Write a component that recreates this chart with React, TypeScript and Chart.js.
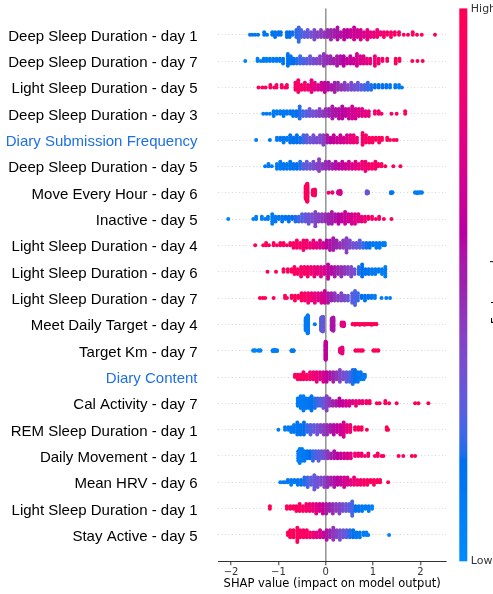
import { useEffect, useRef } from "react";
import { Chart, registerables } from "chart.js";

Chart.register(...registerables);

// ---------- data ----------
const FEATURES = [
  "Deep Sleep Duration - day 1",
  "Deep Sleep Duration - day 7",
  "Light Sleep Duration - day 5",
  "Deep Sleep Duration - day 3",
  "Diary Submission Frequency",
  "Deep Sleep Duration - day 5",
  "Move Every Hour - day 6",
  "Inactive - day 5",
  "Light Sleep Duration - day 4",
  "Light Sleep Duration - day 6",
  "Light Sleep Duration - day 7",
  "Meet Daily Target - day 4",
  "Target Km - day 7",
  "Diary Content",
  "Cal Activity - day 7",
  "REM Sleep Duration - day 1",
  "Daily Movement - day 1",
  "Mean HRV - day 6",
  "Light Sleep Duration - day 1",
  "Stay Active - day 5",
];
const HIGHLIGHTED = ["Diary Submission Frequency", "Diary Content"];
const X_TICKS = [-2, -1, 0, 1, 2];
const COLOR_TICKS = ["Low", "High"];
const X_TITLE = "SHAP value (impact on model output)";
const COLOR_TITLE = "Feature value";

// each entry: [SHAP value, number of stacked samples, feature value (0 low .. 1 high)]
const deepSleepDay1 = [
  [-1.6, 1, 0.12], [-1.55, 1, 0.12], [-1.49, 1, 0.13], [-1.43, 1, 0.13],
  [-1.3, 2, 0.13], [-1.24, 1, 0.14],
  [-1.13, 2, 0.15], [-1.07, 3, 0.15], [-1.0, 2, 0.16], [-0.95, 2, 0.16],
  [-0.82, 3, 0.17], [-0.76, 3, 0.18], [-0.7, 2, 0.19],
  [-0.62, 4, 0.2], [-0.57, 7, 0.22], [-0.52, 4, 0.24],
  [-0.45, 3, 0.28], [-0.38, 4, 0.31], [-0.31, 3, 0.34], [-0.24, 5, 0.37], [-0.17, 3, 0.4], [-0.1, 4, 0.43], [-0.03, 3, 0.45],
  [0.04, 4, 0.48], [0.11, 5, 0.5], [0.18, 4, 0.52], [0.25, 6, 0.55], [0.32, 3, 0.57], [0.39, 5, 0.6], [0.46, 4, 0.62],
  [0.53, 4, 0.64], [0.6, 6, 0.66], [0.67, 4, 0.68], [0.74, 5, 0.7], [0.81, 3, 0.72], [0.88, 5, 0.75], [0.95, 3, 0.77],
  [1.02, 3, 0.8], [1.09, 4, 0.82], [1.16, 2, 0.84], [1.23, 3, 0.86], [1.3, 2, 0.88], [1.38, 3, 0.9], [1.46, 2, 0.91], [1.55, 2, 0.93],
  [1.65, 1, 0.95], [1.74, 1, 0.95], [1.84, 2, 0.96], [1.93, 1, 0.97], [2.03, 1, 0.98], [2.31, 1, 1],
];
const deepSleepDay7 = [
  [-1.7, 1, 0.05], [-1.44, 2, 0.08], [-1.37, 1, 0.09], [-1.31, 2, 0.1], [-1.25, 2, 0.1], [-1.18, 2, 0.11], [-1.11, 2, 0.12], [-1.04, 2, 0.12], [-0.97, 2, 0.13], [-0.9, 3, 0.14],
  [-0.8, 6, 0.15], [-0.74, 4, 0.16], [-0.68, 3, 0.18],
  [-0.61, 3, 0.2], [-0.54, 4, 0.22], [-0.47, 3, 0.25], [-0.4, 3, 0.28], [-0.33, 4, 0.32], [-0.26, 3, 0.35], [-0.19, 3, 0.38], [-0.12, 4, 0.41], [-0.04, 6, 0.44],
  [0.03, 4, 0.47], [0.1, 4, 0.49], [0.17, 3, 0.52], [0.24, 5, 0.54], [0.31, 4, 0.56], [0.38, 5, 0.59], [0.45, 3, 0.61], [0.52, 4, 0.64], [0.59, 3, 0.66], [0.66, 6, 0.69], [0.73, 4, 0.72], [0.8, 4, 0.74], [0.87, 3, 0.77], [0.94, 3, 0.8],
  [1.04, 5, 0.84], [1.12, 3, 0.86], [1.2, 2, 0.88], [1.3, 2, 0.9],
  [1.48, 3, 0.95], [1.56, 2, 0.96],
  [1.83, 1, 0.98], [1.94, 1, 0.99], [2.05, 1, 1],
];
const lightSleepDay5 = [
  [-1.42, 1, 0.96], [-1.34, 1, 0.96], [-1.27, 1, 0.95],
  [-1.17, 2, 0.95], [-1.09, 1, 0.95], [-1.04, 2, 0.94],
  [-0.93, 2, 0.93], [-0.86, 1, 0.93], [-0.82, 2, 0.92],
  [-0.64, 4, 0.9], [-0.58, 6, 0.9], [-0.51, 3, 0.89],
  [-0.44, 4, 0.87], [-0.37, 3, 0.84], [-0.3, 6, 0.8], [-0.23, 4, 0.76], [-0.16, 3, 0.72], [-0.09, 4, 0.68], [-0.02, 5, 0.63],
  [0.05, 4, 0.58], [0.12, 3, 0.55], [0.19, 5, 0.52], [0.26, 4, 0.49], [0.33, 3, 0.46], [0.4, 4, 0.43], [0.47, 3, 0.4],
  [0.54, 4, 0.37], [0.61, 3, 0.34], [0.68, 4, 0.31], [0.75, 3, 0.28], [0.82, 3, 0.25], [0.89, 4, 0.22], [0.96, 3, 0.2],
  [1.04, 2, 0.18], [1.12, 2, 0.17], [1.2, 2, 0.16], [1.28, 2, 0.15], [1.36, 2, 0.14],
  [1.47, 2, 0.12], [1.55, 2, 0.11], [1.61, 1, 0.1],
];
const deepSleepDay3 = [
  [-1.32, 1, 0.1], [-1.25, 1, 0.1], [-1.18, 1, 0.11],
  [-1.1, 3, 0.12], [-1.03, 2, 0.12], [-0.96, 2, 0.13], [-0.89, 3, 0.13], [-0.82, 2, 0.14], [-0.75, 2, 0.15], [-0.69, 3, 0.16],
  [-0.62, 3, 0.18], [-0.55, 6, 0.2], [-0.48, 3, 0.23], [-0.41, 3, 0.27], [-0.34, 4, 0.31], [-0.27, 3, 0.34], [-0.2, 3, 0.37], [-0.13, 4, 0.4], [-0.06, 3, 0.43], [0.0, 4, 0.46],
  [0.07, 4, 0.5], [0.14, 6, 0.53], [0.21, 4, 0.56], [0.28, 5, 0.58], [0.35, 6, 0.6], [0.42, 4, 0.63], [0.49, 5, 0.66], [0.56, 6, 0.68], [0.63, 5, 0.7], [0.7, 4, 0.73], [0.77, 4, 0.75], [0.84, 3, 0.78], [0.91, 3, 0.8],
  [1.04, 2, 0.85], [1.12, 2, 0.87], [1.18, 1, 0.88],
  [1.39, 1, 0.9], [1.5, 1, 0.92], [1.68, 2, 0.96],
];
const diarySubmission = [
  [-1.47, 1, 0.1],
  [-1.18, 1, 0.12], [-1.03, 2, 0.12], [-0.96, 2, 0.13], [-0.89, 3, 0.13], [-0.82, 2, 0.14],
  [-0.75, 4, 0.15], [-0.68, 3, 0.16], [-0.61, 4, 0.17], [-0.54, 3, 0.19], [-0.47, 4, 0.22],
  [-0.4, 4, 0.3], [-0.33, 3, 0.32], [-0.26, 4, 0.34], [-0.19, 3, 0.36], [-0.12, 4, 0.38], [-0.05, 5, 0.4],
  [0.03, 4, 0.55], [0.1, 3, 0.6], [0.17, 4, 0.63], [0.24, 3, 0.65], [0.31, 4, 0.68], [0.38, 3, 0.7], [0.45, 4, 0.73],
  [0.52, 4, 0.8], [0.59, 4, 0.82], [0.66, 3, 0.84],
  [0.78, 6, 0.9], [0.85, 4, 0.91], [0.92, 3, 0.92], [0.99, 3, 0.93], [1.06, 2, 0.94], [1.13, 3, 0.94], [1.19, 2, 0.95],
  [1.3, 2, 0.95], [1.36, 1, 0.96], [1.44, 1, 0.96], [1.5, 1, 0.97],
];
const deepSleepDay5 = [
  [-1.28, 1, 0.1], [-1.21, 2, 0.1], [-1.14, 1, 0.11],
  [-1.03, 3, 0.12], [-0.96, 4, 0.12], [-0.89, 3, 0.13], [-0.82, 3, 0.14], [-0.75, 4, 0.15], [-0.68, 3, 0.16], [-0.61, 3, 0.18], [-0.54, 4, 0.2],
  [-0.47, 3, 0.27], [-0.4, 4, 0.3], [-0.33, 3, 0.33], [-0.26, 4, 0.36], [-0.19, 3, 0.39], [-0.14, 6, 0.41], [-0.07, 3, 0.44], [0.0, 4, 0.47],
  [0.07, 4, 0.5], [0.14, 3, 0.53], [0.21, 4, 0.56], [0.28, 3, 0.6], [0.35, 4, 0.63], [0.42, 3, 0.66], [0.49, 4, 0.7],
  [0.56, 3, 0.74], [0.63, 4, 0.77], [0.7, 3, 0.8], [0.77, 4, 0.82], [0.84, 5, 0.84], [0.91, 3, 0.86], [0.98, 3, 0.88], [1.05, 4, 0.9], [1.11, 2, 0.91],
  [1.18, 2, 0.94], [1.26, 1, 0.95], [1.43, 1, 0.98], [1.58, 1, 1],
];
const moveEveryHourDay6 = [
  [-0.42, 30, 0.95], [-0.39, 41, 0.95], [-0.27, 12, 0.94], [-0.23, 14, 0.94],
  [0.06, 1, 0.85], [0.14, 2, 0.82], [0.27, 6, 0.72], [0.31, 8, 0.7],
  [0.87, 6, 0.33], [0.89, 4, 0.33], [1.38, 3, 0.13], [1.41, 2, 0.13],
  [1.89, 2, 0.1], [1.94, 3, 0.1], [1.99, 2, 0.1], [2.03, 2, 0.1],
];
const inactiveDay5 = [
  [-2.06, 1, 0.05],
  [-1.53, 1, 0.08], [-1.47, 2, 0.08], [-1.35, 2, 0.09], [-1.28, 1, 0.1], [-1.22, 2, 0.1],
  [-1.13, 5, 0.11], [-1.06, 3, 0.12], [-0.99, 2, 0.13], [-0.92, 3, 0.14], [-0.85, 2, 0.15], [-0.78, 3, 0.16], [-0.71, 2, 0.18], [-0.64, 3, 0.2], [-0.57, 3, 0.23], [-0.5, 4, 0.26],
  [-0.43, 4, 0.3], [-0.36, 5, 0.33], [-0.29, 4, 0.36], [-0.22, 7, 0.39], [-0.15, 4, 0.41], [-0.08, 4, 0.44], [-0.01, 4, 0.47],
  [0.06, 5, 0.5], [0.13, 6, 0.53], [0.2, 4, 0.56], [0.27, 5, 0.59], [0.34, 4, 0.62], [0.41, 6, 0.65], [0.48, 4, 0.68], [0.55, 5, 0.71], [0.62, 5, 0.74], [0.69, 4, 0.77], [0.76, 3, 0.8], [0.83, 3, 0.83], [0.9, 2, 0.85],
  [0.98, 2, 0.9], [1.06, 1, 0.91], [1.13, 2, 0.92],
  [1.23, 1, 0.95], [1.39, 1, 0.97],
];
const lightSleepDay4 = [
  [-1.49, 1, 0.96], [-1.32, 1, 0.95], [-1.26, 2, 0.95], [-1.2, 1, 0.95],
  [-1.1, 2, 0.94], [-1.03, 1, 0.94], [-0.96, 2, 0.93], [-0.89, 2, 0.93], [-0.82, 1, 0.92], [-0.75, 2, 0.92],
  [-0.68, 3, 0.91], [-0.61, 4, 0.9], [-0.54, 3, 0.89], [-0.47, 5, 0.88], [-0.4, 4, 0.86], [-0.33, 3, 0.84], [-0.26, 4, 0.8], [-0.19, 3, 0.76], [-0.12, 4, 0.72], [-0.05, 3, 0.68],
  [0.02, 4, 0.6], [0.09, 5, 0.56], [0.16, 6, 0.53], [0.23, 4, 0.5], [0.3, 3, 0.47], [0.37, 4, 0.44], [0.44, 7, 0.41], [0.51, 4, 0.38], [0.58, 3, 0.35], [0.65, 3, 0.32], [0.72, 4, 0.28],
  [0.79, 3, 0.22], [0.86, 3, 0.19], [0.93, 3, 0.16], [1.0, 2, 0.14], [1.07, 3, 0.12], [1.14, 3, 0.11], [1.21, 2, 0.1], [1.25, 2, 0.1],
];
const lightSleepDay6 = [
  [-1.23, 1, 1], [-1.05, 1, 0.98],
  [-0.89, 2, 0.96], [-0.8, 2, 0.95], [-0.72, 2, 0.95],
  [-0.66, 4, 0.93], [-0.59, 3, 0.92], [-0.52, 5, 0.91], [-0.45, 4, 0.9], [-0.38, 5, 0.88], [-0.31, 4, 0.86], [-0.24, 5, 0.83], [-0.17, 4, 0.8], [-0.1, 5, 0.76], [-0.03, 4, 0.72],
  [0.05, 7, 0.62], [0.12, 4, 0.58], [0.19, 5, 0.54], [0.26, 4, 0.5], [0.33, 5, 0.47], [0.4, 4, 0.44], [0.47, 4, 0.41], [0.54, 5, 0.38], [0.61, 3, 0.35],
  [0.7, 4, 0.2], [0.77, 6, 0.18], [0.84, 3, 0.16], [0.91, 3, 0.14], [0.98, 3, 0.13], [1.05, 3, 0.12], [1.12, 2, 0.11], [1.19, 3, 0.1], [1.26, 5, 0.1],
];
const lightSleepDay7 = [
  [-1.39, 1, 1], [-1.33, 1, 1], [-1.28, 1, 0.99], [-1.1, 1, 0.98], [-0.86, 2, 0.96], [-0.82, 1, 0.96],
  [-0.72, 2, 0.95], [-0.65, 3, 0.95], [-0.58, 2, 0.94], [-0.51, 4, 0.93],
  [-0.44, 4, 0.9], [-0.37, 5, 0.87], [-0.3, 4, 0.84], [-0.23, 5, 0.8], [-0.16, 4, 0.76], [-0.09, 5, 0.72], [-0.02, 6, 0.67],
  [0.05, 5, 0.55], [0.12, 4, 0.5], [0.19, 4, 0.45], [0.26, 3, 0.42], [0.33, 4, 0.39], [0.4, 3, 0.36], [0.47, 3, 0.32],
  [0.56, 5, 0.27], [0.62, 7, 0.25], [0.68, 4, 0.23],
  [0.76, 2, 0.18], [0.83, 3, 0.16], [0.9, 2, 0.15], [0.97, 2, 0.13], [1.04, 2, 0.12],
  [1.18, 1, 0.1], [1.28, 1, 0.1], [1.36, 1, 0.1],
];
const meetDailyTargetDay4 = [
  [-0.42, 28, 0.1], [-0.38, 41, 0.1], [-0.23, 1, 0.12],
  [-0.09, 30, 0.28], [-0.06, 34, 0.3],
  [0.13, 26, 0.52], [0.16, 30, 0.55],
  [0.34, 8, 0.8], [0.38, 9, 0.78],
  [0.57, 2, 0.95], [0.62, 3, 0.95], [0.67, 2, 0.95], [0.72, 3, 0.96], [0.77, 2, 0.96], [0.82, 3, 0.96], [0.87, 2, 0.97], [0.92, 2, 0.97], [0.97, 3, 0.97], [1.02, 2, 0.98], [1.07, 2, 0.98],
];
const targetKmDay7 = [
  [-1.53, 2, 0.05], [-1.49, 2, 0.05], [-1.42, 2, 0.06], [-1.38, 2, 0.06],
  [-1.12, 3, 0.08], [-1.08, 4, 0.08], [-1.03, 3, 0.09],
  [-0.72, 3, 0.12], [-0.68, 3, 0.12],
  [0.0, 41, 0.62],
  [0.31, 10, 0.8], [0.35, 14, 0.8],
  [0.63, 2, 0.93], [0.68, 2, 0.93], [0.73, 2, 0.94], [0.78, 2, 0.94],
  [1.01, 2, 0.97], [1.06, 2, 0.97], [1.11, 2, 0.98],
];
const diaryContent = [
  [-0.65, 2, 0.96], [-0.59, 3, 0.95], [-0.53, 3, 0.94],
  [-0.47, 4, 0.92], [-0.4, 3, 0.9], [-0.33, 4, 0.87], [-0.26, 4, 0.84], [-0.19, 5, 0.8], [-0.12, 4, 0.76], [-0.05, 5, 0.7],
  [0.02, 5, 0.62], [0.09, 4, 0.56], [0.16, 5, 0.5], [0.23, 4, 0.45], [0.3, 6, 0.4], [0.37, 4, 0.36], [0.44, 5, 0.3],
  [0.51, 5, 0.24], [0.57, 7, 0.2], [0.62, 6, 0.17], [0.68, 5, 0.15], [0.74, 4, 0.13], [0.8, 3, 0.11], [0.83, 2, 0.1],
];
const calActivityDay7 = [
  [-0.59, 4, 0.1], [-0.53, 6, 0.1], [-0.47, 7, 0.11], [-0.41, 5, 0.12], [-0.35, 5, 0.14], [-0.3, 7, 0.16], [-0.23, 5, 0.2], [-0.17, 4, 0.23], [-0.11, 4, 0.27], [-0.05, 5, 0.3],
  [0.02, 7, 0.4], [0.08, 4, 0.45],
  [0.15, 3, 0.5], [0.22, 3, 0.55], [0.29, 4, 0.6], [0.36, 3, 0.64], [0.43, 3, 0.68], [0.5, 3, 0.72], [0.57, 2, 0.75], [0.64, 3, 0.78], [0.71, 2, 0.82],
  [0.78, 2, 0.86], [0.86, 2, 0.88], [0.93, 2, 0.9],
  [1.08, 1, 0.93], [1.14, 1, 0.93], [1.26, 2, 0.95], [1.34, 1, 0.95], [1.5, 1, 0.97], [1.89, 1, 0.99], [1.96, 1, 0.99], [2.17, 1, 1],
];
const remSleepDay1 = [
  [-1.0, 1, 0.1], [-0.86, 2, 0.1], [-0.79, 2, 0.11], [-0.73, 3, 0.12],
  [-0.67, 4, 0.13], [-0.6, 6, 0.14], [-0.53, 5, 0.16], [-0.46, 6, 0.18], [-0.39, 4, 0.22], [-0.32, 5, 0.26], [-0.25, 4, 0.3], [-0.18, 5, 0.34], [-0.11, 4, 0.38], [-0.04, 5, 0.42],
  [0.03, 5, 0.48], [0.1, 4, 0.52], [0.17, 5, 0.57], [0.24, 4, 0.62], [0.31, 5, 0.67], [0.38, 7, 0.72], [0.45, 4, 0.78], [0.52, 4, 0.84],
  [0.62, 2, 0.93], [0.69, 2, 0.95], [0.76, 2, 0.96], [0.87, 1, 0.97], [1.29, 2, 1], [1.32, 1, 1],
];
const dailyMovementDay1 = [
  [-0.58, 5, 0.08], [-0.55, 7, 0.08], [-0.5, 6, 0.1], [-0.45, 5, 0.12], [-0.39, 4, 0.15], [-0.33, 4, 0.18], [-0.27, 5, 0.22], [-0.21, 4, 0.25], [-0.15, 5, 0.28], [-0.09, 4, 0.31], [-0.03, 4, 0.35],
  [0.04, 4, 0.45], [0.11, 3, 0.5], [0.18, 4, 0.55], [0.25, 3, 0.6], [0.32, 3, 0.64], [0.39, 3, 0.68], [0.46, 3, 0.72], [0.53, 3, 0.76],
  [0.62, 2, 0.85], [0.69, 2, 0.86], [0.76, 2, 0.87], [0.83, 1, 0.88], [0.9, 2, 0.89],
  [1.04, 1, 0.91], [1.1, 2, 0.92], [1.18, 1, 0.93], [1.22, 1, 0.93], [1.54, 1, 0.96], [1.64, 1, 0.96], [1.82, 1, 1], [1.89, 1, 1],
];
const meanHrvDay6 = [
  [-0.96, 1, 0.1], [-0.9, 1, 0.1], [-0.86, 1, 0.11],
  [-0.8, 2, 0.12], [-0.73, 3, 0.12], [-0.66, 2, 0.13], [-0.59, 3, 0.14], [-0.52, 3, 0.16],
  [-0.45, 4, 0.2], [-0.38, 5, 0.24], [-0.31, 4, 0.28], [-0.24, 7, 0.31], [-0.17, 5, 0.34], [-0.1, 4, 0.37], [-0.03, 5, 0.4],
  [0.04, 5, 0.48], [0.11, 4, 0.52], [0.18, 5, 0.56], [0.25, 4, 0.6], [0.32, 4, 0.64], [0.39, 5, 0.68], [0.46, 4, 0.72],
  [0.53, 3, 0.78], [0.6, 4, 0.82], [0.67, 3, 0.85], [0.74, 3, 0.88], [0.81, 3, 0.9],
  [0.88, 3, 0.93], [0.95, 2, 0.94], [1.02, 3, 0.95], [1.09, 2, 0.96], [1.15, 2, 0.96], [1.32, 1, 0.98],
];
const lightSleepDay1 = [
  [-1.18, 2, 1],
  [-0.82, 2, 0.96], [-0.75, 2, 0.95], [-0.68, 2, 0.95],
  [-0.62, 3, 0.93], [-0.55, 4, 0.92], [-0.48, 3, 0.9], [-0.41, 4, 0.88], [-0.34, 4, 0.86],
  [-0.27, 4, 0.8], [-0.2, 5, 0.76], [-0.13, 4, 0.7], [-0.06, 5, 0.65],
  [0.01, 5, 0.55], [0.08, 4, 0.5], [0.15, 5, 0.47], [0.22, 4, 0.43], [0.29, 5, 0.4], [0.36, 4, 0.36], [0.43, 4, 0.32], [0.5, 4, 0.28], [0.56, 7, 0.24],
  [0.63, 3, 0.17], [0.7, 3, 0.15], [0.77, 3, 0.13], [0.84, 2, 0.11], [0.91, 3, 0.1], [0.98, 2, 0.08],
];
const stayActiveDay5 = [
  [-0.8, 2, 0.97], [-0.75, 4, 0.96], [-0.68, 4, 0.95], [-0.6, 7, 0.95], [-0.54, 4, 0.94], [-0.47, 4, 0.93], [-0.4, 4, 0.92], [-0.33, 3, 0.9],
  [-0.26, 3, 0.82], [-0.19, 3, 0.77], [-0.12, 4, 0.72], [-0.05, 3, 0.66],
  [0.02, 5, 0.55], [0.09, 4, 0.5], [0.16, 6, 0.45], [0.23, 4, 0.4], [0.3, 5, 0.36], [0.37, 4, 0.32], [0.44, 4, 0.28],
  [0.51, 4, 0.2], [0.58, 4, 0.17], [0.65, 3, 0.14], [0.72, 3, 0.12],
  [0.8, 2, 0.1], [0.86, 2, 0.08], [0.9, 1, 0.08], [1.34, 1, 0.05],
];

const ROWS = [
  deepSleepDay1, deepSleepDay7, lightSleepDay5, deepSleepDay3, diarySubmission,
  deepSleepDay5, moveEveryHourDay6, inactiveDay5, lightSleepDay4, lightSleepDay6,
  lightSleepDay7, meetDailyTargetDay4, targetKmDay7, diaryContent, calActivityDay7,
  remSleepDay1, dailyMovementDay1, meanHrvDay6, lightSleepDay1, stayActiveDay5,
];

// ---------- SHAP red_blue colormap (LCH interpolation) ----------
function lch2rgb(L: number, C: number, H: number): [number, number, number] {
  const a = C * Math.cos(H);
  const b = C * Math.sin(H);
  const fy = (L + 16) / 116;
  const fx = fy + a / 500;
  const fz = fy - b / 200;
  const inv = (t: number) => (t > 0.2068966 ? t * t * t : (t - 16 / 116) / 7.787);
  const X = 0.95047 * inv(fx);
  const Y = 1.0 * inv(fy);
  const Z = 1.08883 * inv(fz);
  const lin = [
    3.24048134 * X - 1.53715152 * Y - 0.49853633 * Z,
    -0.96925495 * X + 1.87599 * Y + 0.04155593 * Z,
    0.05564664 * X - 0.20404134 * Y + 1.05731107 * Z,
  ];
  const g = lin.map((v) => {
    const s = v > 0.0031308 ? 1.055 * Math.pow(v, 1 / 2.4) - 0.055 : v * 12.92;
    return Math.min(1, Math.max(0, s)) * 255;
  });
  return [g[0], g[1], g[2]];
}
const CMAP: [number, number, number][] = (() => {
  const n = 100;
  const out: [number, number, number][] = [];
  const h0 = 4.6588, h1 = 0.35470565 + 2 * Math.PI;
  for (let i = 0; i < n; i++) {
    const L = i < n / 2 ? 54 - (14 * i) / (n / 2 - 1) : 40 + (14 * (i - n / 2)) / (n / 2 - 1);
    const C = 70 + (20 * i) / (n - 1);
    const H = h0 + ((h1 - h0) * i) / (n - 1);
    out.push(lch2rgb(L, C, H));
  }
  return out;
})();
function cmap(t: number): string {
  const p = Math.min(1, Math.max(0, t)) * (CMAP.length - 1);
  const i = Math.floor(p);
  const j = Math.min(CMAP.length - 1, i + 1);
  const f = p - i;
  const c = CMAP[i].map((v, k) => Math.round(v + (CMAP[j][k] - v) * f));
  return `rgb(${c[0]},${c[1]},${c[2]})`;
}

const colorbarPlugin = {
  id: "shapColorbar",
  afterDraw(chart: any) {
    const { ctx, chartArea } = chart;
    const top = chartArea.top;
    const bottom = chartArea.bottom;
    const x0 = 459.3;
    const w = 8;
    ctx.save();
    const grad = ctx.createLinearGradient(0, bottom, 0, top);
    CMAP.forEach((_, i) => grad.addColorStop(i / (CMAP.length - 1), cmap(i / (CMAP.length - 1))));
    ctx.fillStyle = grad;
    ctx.fillRect(x0, top, w, bottom - top);
    ctx.fillStyle = "#333";
    ctx.font = "11px 'DejaVu Sans'";
    ctx.textAlign = "left";
    ctx.textBaseline = "middle";
    ctx.fillText(COLOR_TICKS[1], x0 + w + 3.5, top + 0.5);
    ctx.fillText(COLOR_TICKS[0], x0 + w + 3.5, bottom);
    ctx.translate(499.5, (top + bottom) / 2);
    ctx.rotate(-Math.PI / 2);
    ctx.font = "11.5px 'DejaVu Sans'";
    ctx.textAlign = "center";
    ctx.textBaseline = "alphabetic";
    ctx.fillStyle = "#000";
    ctx.fillText(COLOR_TITLE, 0, 0);
    ctx.restore();
  },
};

export default function App() {
  const ref = useRef<HTMLCanvasElement | null>(null);

  useEffect(() => {
    if (!ref.current) return;
    const nRows = ROWS.length;
    const datasets = ROWS.map((cols, r) => {
      const pos = nRows - 1 - r;
      const pts: { x: number; ys: number; c: number }[] = [];
      let maxLayer = 0;
      cols.forEach(([x, n, c]) => {
        for (let l = 0; l < n; l++) {
          const ys = Math.ceil(l / 2) * (l % 2 ? 1 : -1);
          if (ys > maxLayer) maxLayer = ys;
          pts.push({ x, ys, c });
        }
      });
      const scale = (0.9 * 0.4) / (maxLayer + 1);
      return {
        label: FEATURES[r],
        data: pts.map((p) => ({ x: p.x, y: pos + p.ys * scale })),
        pointBackgroundColor: pts.map((p) => cmap(p.c)),
        pointBorderWidth: 0,
        pointRadius: 2,
        pointHoverRadius: 2,
      };
    });

    const chart = new Chart(ref.current, {
      type: "scatter",
      data: { datasets },
      options: {
        animation: false,
        responsive: false,
        devicePixelRatio: 1,
        events: [],
        layout: { padding: { top: 8.4, right: 47, bottom: 0, left: 0 } },
        plugins: { legend: { display: false }, tooltip: { enabled: false } },
        scales: {
          x: {
            type: "linear",
            min: -2.27,
            max: 2.543,
            afterBuildTicks: (s: any) => {
              s.ticks = X_TICKS.map((v) => ({ value: v }));
            },
            afterFit: (s: any) => {
              s.height = 32.7;
              s.paddingLeft = 0;
              s.paddingRight = 0;
              s.paddingTop = 0;
              s.paddingBottom = 0;
            },
            ticks: {
              autoSkip: false,
              maxRotation: 0,
              padding: 1,
              color: "#333",
              font: { family: "'DejaVu Sans'", size: 10 },
              callback: (v: any) => (v < 0 ? "\u2212" + Math.abs(v) : String(v)),
            },
            grid: {
              drawOnChartArea: true,
              color: (c: any) => (c.tick && c.tick.value === 0 ? "#999999" : "rgba(0,0,0,0)"),
              lineWidth: 1.6,
              tickColor: "#333",
              tickLength: 4,
              tickWidth: 1,
            },
            border: { display: true, color: "#333", width: 1 },
            title: {
              display: true,
              text: X_TITLE,
              color: "#000",
              font: { family: "'DejaVu Sans'", size: 11.5 },
              padding: { top: 0, bottom: 2.8 },
            },
          },
          y: {
            type: "linear",
            min: -1,
            max: nRows,
            afterBuildTicks: (s: any) => {
              s.ticks = FEATURES.map((_, i) => ({ value: i }));
            },
            afterFit: (s: any) => {
              s.width = 218.3;
              s.paddingLeft = 0;
              s.paddingRight = 0;
              s.paddingTop = 0;
              s.paddingBottom = 0;
            },
            ticks: {
              autoSkip: false,
              padding: 20.8,
              labelOffset: 1.8,
              font: { family: "'Liberation Sans'", size: 15 },
              color: (c: any) => {
                const name = FEATURES[nRows - 1 - c.tick.value];
                return HIGHLIGHTED.includes(name) ? "#1f6fe5" : "#000";
              },
              callback: (v: any) => FEATURES[nRows - 1 - v] ?? "",
            },
            grid: {
              drawTicks: false,
              drawOnChartArea: true,
              color: "#cccccc",
              lineWidth: 0.8,
            },
            border: { display: false, dash: [1, 2.5] },
          },
        },
      },
      plugins: [colorbarPlugin],
    });
    return () => chart.destroy();
  }, []);

  return (
    <div style={{ position: "fixed", left: 0, top: 0, width: 493, height: 594, background: "#fff" }}>
      <canvas ref={ref} width={493} height={594} />
    </div>
  );
}
